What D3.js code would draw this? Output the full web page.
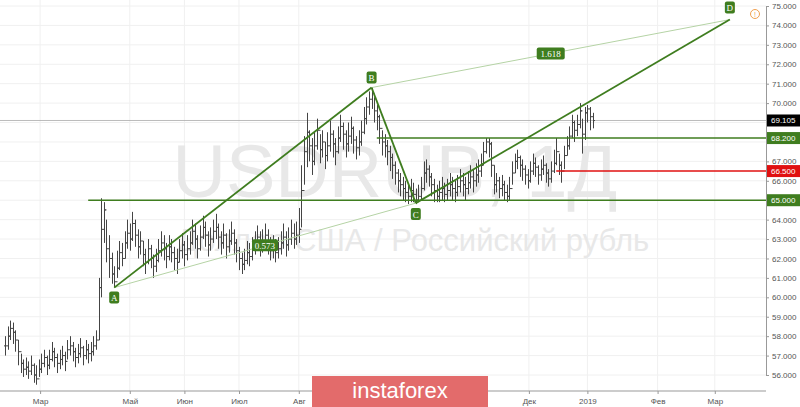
<!DOCTYPE html><html><head><meta charset="utf-8"><script src="https://cdn.jsdelivr.net/npm/d3@7"></script>
<style>body{margin:0;background:#fff}svg{display:block;font-family:"Liberation Sans",Arial,sans-serif}</style></head><body><svg id="c" width="800" height="407"></svg>
<script>
const closes=[57.5,58.0,58.4,58.2,57.8,57.2,56.6,56.3,56.4,56.2,56.5,56.0,55.8,56.3,
56.6,56.9,56.5,56.8,57.2,56.9,56.6,56.8,57.0,56.7,57.3,57.5,57.2,56.9,57.1,57.4,57.0,57.3,57.1,57.2,57.5,57.8,
60.5,63.5,64.5,62.5,62.0,61.2,60.8,
61.5,62.3,62.0,62.8,63.3,63.0,63.8,63.2,62.6,62.9,62.2,61.8,62.5,62.0,61.6,61.9,62.4,62.8,62.5,62.1,62.6,62.3,62.0,61.8,62.4,62.7,62.2,62.5,
62.8,63.4,63.0,62.5,63.1,63.6,63.2,62.7,63.0,63.4,63.6,63.1,62.8,63.2,62.6,62.9,63.3,62.8,62.4,62.0,61.7,61.9,62.3,62.1,62.5,62.8,63.1,62.7,62.9,63.2,62.8,62.4,62.6,62.3,62.5,62.8,63.1,62.7,63.0,63.3,63.0,63.2,
63.5,65.5,67.5,68.5,67.8,67.0,67.8,68.6,67.6,68.0,67.3,67.8,68.4,67.9,67.5,68.2,68.8,68.4,67.9,68.3,68.7,68.1,67.7,68.0,68.5,69.2,69.8,70.2,
70.5,69.6,69.3,68.7,68.0,67.8,67.5,67.2,66.8,66.4,66.0,65.8,65.6,65.4,65.2,65.5,65.3,65.0,65.2,65.6,
66.4,66.6,66.2,65.8,65.5,65.2,65.4,65.6,65.3,65.5,65.8,65.6,65.4,65.7,66.0,65.8,65.6,65.9,66.2,66.0,66.3,66.5,66.8,67.5,68.0,
67.9,66.8,65.8,66.0,65.6,65.8,65.4,65.2,65.6,66.4,67.0,67.2,66.8,66.6,66.3,
66.0,66.5,66.9,66.7,66.3,66.6,66.8,66.4,66.1,66.5,66.9,67.5,66.8,66.5,67.3,
67.8,68.3,69.0,68.6,68.9,69.6,68.4,69.5,69.7,69.3,69.1];
const highs=[58.0,58.5,58.8,58.7,58.3,57.8,57.1,56.8,56.9,56.7,57.0,56.6,56.5,56.8,
57.1,57.3,57.0,57.3,57.7,57.4,57.1,57.3,57.5,57.2,57.8,58.0,57.7,57.4,57.6,57.9,57.5,57.8,57.6,57.7,58.0,58.3,
61.0,65.1,64.9,64.0,63.2,62.3,61.6,
62.4,62.9,62.8,63.4,64.0,63.8,64.4,64.0,63.5,63.4,62.9,62.5,63.0,62.7,62.2,62.5,63.0,63.4,63.2,62.8,63.2,63.0,62.6,62.5,63.0,63.3,62.9,63.2,
63.4,64.0,63.8,63.2,63.7,64.2,63.9,63.4,63.6,64.0,64.3,63.8,63.4,63.8,63.3,63.5,63.9,63.5,63.0,62.6,62.3,62.5,62.9,62.8,63.1,63.4,63.7,63.4,63.5,63.8,63.5,63.1,63.2,63.0,63.1,63.4,63.8,63.4,63.6,64.0,63.8,63.9,
64.6,66.8,68.3,69.5,68.6,68.2,68.5,69.2,68.4,68.6,68.0,68.5,69.1,68.6,68.2,68.8,69.4,69.0,68.6,69.0,69.3,68.8,68.3,68.6,69.1,69.8,70.3,70.6,
70.8,70.3,69.9,69.4,68.6,68.4,68.1,67.8,67.4,67.0,66.6,66.4,66.2,66.0,65.8,66.1,65.9,65.6,65.8,66.2,
67.0,67.1,66.8,66.4,66.1,65.8,66.0,66.2,65.9,66.1,66.4,66.2,66.0,66.3,66.6,66.4,66.2,66.5,66.8,66.6,66.9,67.1,67.4,68.0,68.2,
68.2,68.0,66.8,66.4,66.2,66.3,66.0,65.8,66.2,67.0,67.4,67.6,67.3,67.1,66.8,
66.6,67.0,67.4,67.2,66.8,67.1,67.3,66.9,66.6,67.0,67.6,68.2,67.4,67.0,67.8,
68.3,68.8,69.4,69.1,69.4,70.0,69.2,69.8,69.9,69.8,69.5];
const lows=[57.0,57.3,57.8,57.6,57.2,56.5,56.1,55.9,56.0,55.8,56.0,55.6,55.5,55.9,
56.1,56.4,56.0,56.3,56.7,56.4,56.1,56.3,56.5,56.2,56.8,57.0,56.7,56.4,56.6,56.9,56.5,56.8,56.6,56.7,57.0,57.3,
57.8,60.0,62.8,61.8,61.0,60.7,60.5,
61.0,61.4,61.6,62.0,62.5,62.4,62.9,62.6,62.0,62.2,61.6,61.2,61.7,61.5,61.0,61.3,61.8,62.1,61.9,61.5,61.9,61.8,61.4,61.2,61.8,62.0,61.6,61.9,
62.2,62.7,62.5,62.0,62.4,63.0,62.6,62.1,62.4,62.8,63.0,62.5,62.2,62.5,62.0,62.3,62.7,62.2,61.8,61.4,61.2,61.4,61.7,61.6,61.9,62.2,62.5,62.1,62.3,62.6,62.2,61.9,62.0,61.8,62.0,62.2,62.5,62.1,62.4,62.7,62.5,62.7,
62.8,63.6,65.8,66.7,67.0,66.3,66.8,67.6,66.9,67.2,66.6,67.0,67.5,67.2,66.8,67.4,68.0,67.6,67.2,67.5,67.9,67.4,67.1,67.3,67.8,68.4,68.9,69.4,
69.7,69.0,68.6,67.9,67.3,67.2,66.8,66.5,66.1,65.8,65.4,65.2,65.0,64.9,64.8,64.9,64.9,64.8,64.9,65.0,
65.5,65.9,65.7,65.2,64.9,64.9,64.9,65.0,64.9,65.0,65.2,65.0,64.9,65.2,65.4,65.2,65.0,65.3,65.6,65.4,65.7,65.9,66.2,66.8,67.4,
67.2,66.2,65.3,65.4,65.1,65.2,65.0,64.9,65.0,65.8,66.4,66.6,66.2,66.0,65.8,
65.6,65.9,66.3,66.2,65.8,66.0,66.3,65.9,65.7,65.9,66.4,66.8,66.3,65.9,66.6,
67.3,67.6,68.2,68.0,68.3,68.7,67.4,68.1,69.0,68.6,68.7];
const monthTicks=[13.5,48,69,90,113,201.5,224,251,273];
const monthLabels=["Мар","Май","Июн","Июл","Авг","Дек","2019","Фев","Мар"];
const priceTicks=d3.range(56,76,1);
const waves=[{n:"A",i:42,p:60.5},{n:"B",i:141,p:70.8},{n:"C",i:158,p:64.85},{n:"D",i:278.8,p:74.3}];
const levels=[{p:65.0,from:32,c:"#3f7d1f",t:"65.000"},{p:68.2,from:143,c:"#3f7d1f",t:"68.200"},{p:66.5,from:212,c:"#e01010",t:"66.500"}];
const lastPrice=69.105;

const svg=d3.select("#c");
const x=d3.scaleLinear().domain([0,292.7]).range([5,766]);
const y=d3.scaleLinear().domain([56,75]).range([375,6]);
const G="#3f7d1f";
const labelled=[lastPrice,...levels.map(l=>l.p)];
const axisTicks=priceTicks.filter(t=>labelled.every(p=>Math.abs(y(t)-y(p))>9));
svg.append("g").selectAll("line").data(priceTicks).join("line").attr("x1",0).attr("x2",766).attr("y1",d=>y(d)).attr("y2",d=>y(d)).attr("stroke","#f0f0f0");
svg.append("g").selectAll("line").data(monthTicks).join("line").attr("x1",d=>x(d)).attr("x2",d=>x(d)).attr("y1",0).attr("y2",391).attr("stroke","#f0f0f0");
svg.append("text").attr("x",395).attr("y",197).attr("text-anchor","middle").attr("font-size",74).attr("fill","#e8e8e8").text("USDRUB, 1Д");
svg.append("text").attr("x",413).attr("y",251).attr("text-anchor","middle").attr("font-size",31).attr("fill","#e8e8e8").text("Доллар США / Российский рубль");
svg.append("line").attr("x1",0).attr("x2",766).attr("y1",y(lastPrice)).attr("y2",y(lastPrice)).attr("stroke","#aaa").attr("stroke-width",0.8);
const bars=svg.append("g").attr("stroke","#444").attr("stroke-width",1);
closes.forEach((c,i)=>{const o=i?closes[i-1]:c;const cx=Math.round(x(i))+0.5;
 bars.append("line").attr("x1",cx).attr("x2",cx).attr("y1",y(highs[i])).attr("y2",y(lows[i]));
 bars.append("line").attr("x1",cx-1.5).attr("x2",cx).attr("y1",y(o)).attr("y2",y(o));
 bars.append("line").attr("x1",cx).attr("x2",cx+1.5).attr("y1",y(c)).attr("y2",y(c));});
levels.forEach(l=>{svg.append("line").attr("x1",x(l.from)).attr("x2",766).attr("y1",y(l.p)).attr("y2",y(l.p)).attr("stroke",l.c).attr("stroke-width",1.5);});
const W=Object.fromEntries(waves.map(w=>[w.n,w]));
const seg=(a,b,col,sw)=>svg.append("line").attr("x1",x(a.i)).attr("y1",y(a.p)).attr("x2",x(b.i)).attr("y2",y(b.p)).attr("stroke",col).attr("stroke-width",sw);
seg(W.A,W.C,"#b5d3a5",1);seg(W.B,W.D,"#b5d3a5",1);
seg(W.A,W.B,G,1.8);seg(W.B,W.C,G,1.8);seg(W.C,W.D,G,1.8);
function tag(cx,cy,t,w){svg.append("rect").attr("x",cx-w/2).attr("y",cy-6).attr("width",w).attr("height",12).attr("rx",2).attr("fill",G);
 svg.append("text").attr("x",cx).attr("y",cy+3.5).attr("text-anchor","middle").attr("font-size",9).attr("font-family","Liberation Serif,serif").attr("fill","#fff").text(t);}
tag(x(W.A.i),y(W.A.p)+10,"A",10);tag(x(W.B.i),y(W.B.p)-10,"B",10);tag(x(W.C.i),y(W.C.p)+11,"C",10);tag(x(W.D.i),y(W.D.p)-12,"D",10);
tag((x(W.A.i)+x(W.C.i))/2,(y(W.A.p)+y(W.C.p))/2,"0.573",26);
tag((x(W.B.i)+x(W.D.i))/2,(y(W.B.p)+y(W.D.p))/2,"1.618",28);
const ya=svg.append("g").attr("transform","translate(766,0)").call(d3.axisRight(y).tickValues(axisTicks).tickFormat(d3.format(".3f")).tickSize(3));
ya.select(".domain").attr("stroke","#999");ya.selectAll("text").attr("font-size",8).attr("fill","#555");ya.selectAll(".tick line").attr("stroke","#999");
const xa=svg.append("g").attr("transform","translate(0,391)").call(d3.axisBottom(x).tickValues(monthTicks).tickFormat((d,i)=>monthLabels[i]).tickSize(3));
xa.select(".domain").attr("stroke","#999").attr("d","M0,0H766");xa.selectAll("text").attr("font-size",8).attr("fill","#555").attr("dy","0.9em");xa.selectAll(".tick line").attr("stroke","#999");
function plabel(p,t,bg){svg.append("rect").attr("x",767).attr("y",y(p)-6).attr("width",33).attr("height",12).attr("fill",bg);
 svg.append("text").attr("x",771).attr("y",y(p)+3).attr("font-size",8).attr("fill","#fff").text(t);}
plabel(lastPrice,"69.105","#000");levels.forEach(l=>plabel(l.p,l.t,l.c));
svg.append("circle").attr("cx",755).attr("cy",14).attr("r",4.5).attr("fill","none").attr("stroke","#f0a050");
svg.append("text").attr("x",755).attr("y",17).attr("text-anchor","middle").attr("font-size",7).attr("fill","#f0a050").text("!");
svg.append("rect").attr("x",312).attr("y",376).attr("width",176).attr("height",31).attr("fill","#e36b6b");
svg.append("text").attr("x",400).attr("y",398).attr("text-anchor","middle").attr("font-size",22).attr("fill","#fff").text("instaforex");
</script></body></html>
